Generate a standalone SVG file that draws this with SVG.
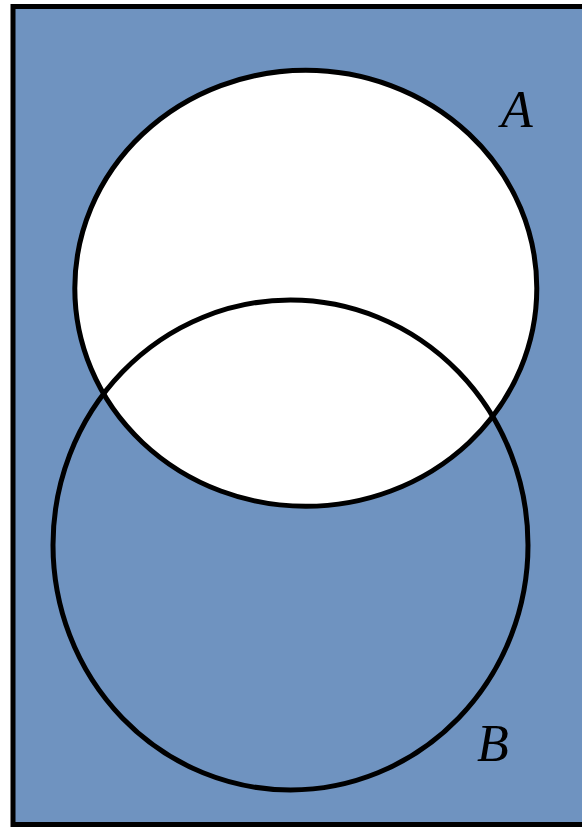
<svg xmlns="http://www.w3.org/2000/svg" width="582" height="828" viewBox="0 0 582 828">
<style>
.lbl{font-family:"Liberation Serif","Times New Roman",serif;font-style:italic;font-size:52px;fill:#000}
.edge{stroke:#000;stroke-width:5}
</style>
<rect x="0" y="0" width="582" height="828" fill="#ffffff"/>
<g id="universe"><rect x="13" y="6.5" width="600" height="818" fill="#6f93c0" class="edge" stroke-width="6"/></g>
<g id="setA-fill"><ellipse cx="305.8" cy="288.3" rx="231" ry="218" fill="#ffffff"/></g>
<g id="outlines" fill="none">
<ellipse id="A" cx="305.8" cy="288.3" rx="231" ry="218" class="edge"/>
<ellipse id="B" cx="290.5" cy="545" rx="237.5" ry="245" class="edge"/>
</g>
<text class="lbl" x="501" y="127">A</text>
<text class="lbl" x="477" y="761">B</text>
</svg>
